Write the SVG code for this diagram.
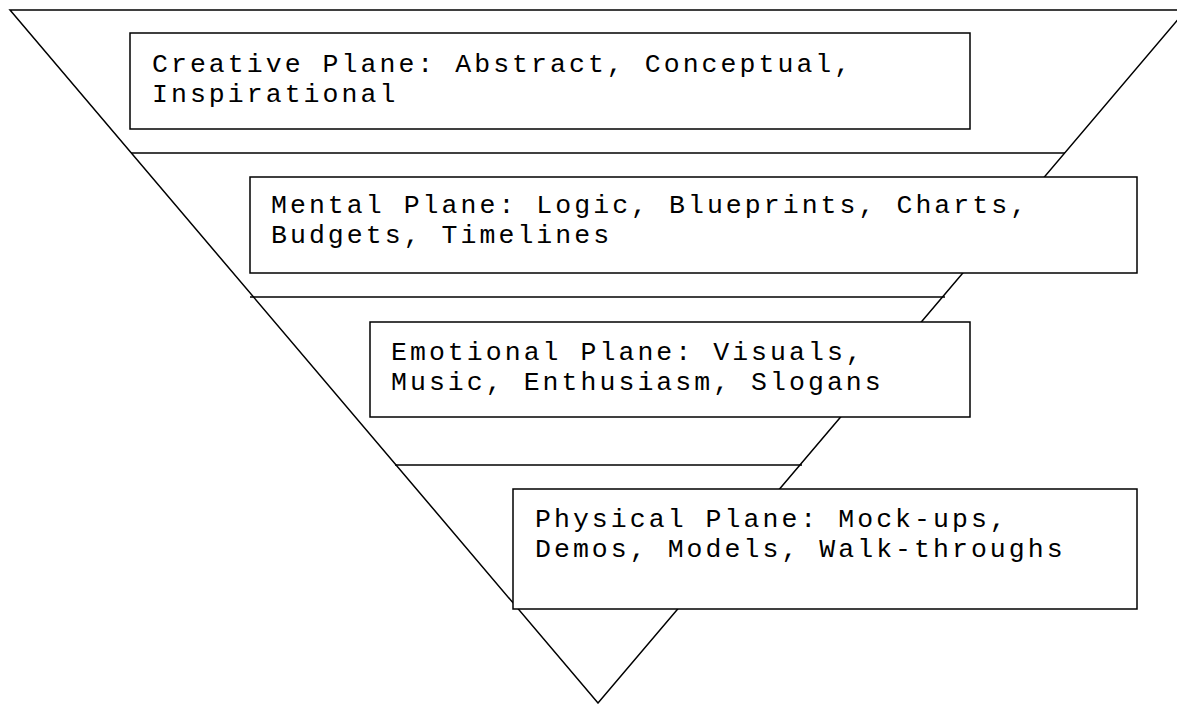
<svg xmlns="http://www.w3.org/2000/svg" width="1177" height="704" viewBox="0 0 1177 704">
<style>
.edge{fill:none;stroke:#000;stroke-width:1.5}
.box{fill:#fff;stroke:#000;stroke-width:1.5}
.lbl{font-family:"Liberation Mono","Courier New",monospace;font-size:26.5px;letter-spacing:3.05px;fill:#000}
</style>
<rect x="0" y="0" width="1177" height="704" fill="#fff"/>
<g id="pyramid">
<polygon class="edge" points="10,10 1186,10 598,703"/>
<line class="edge" x1="131" y1="153" x2="1065" y2="153"/>
<line class="edge" x1="250" y1="297" x2="945" y2="297"/>
<line class="edge" x1="395" y1="465" x2="802" y2="465"/>
</g>
<g id="creative">
<rect class="box" x="130" y="33" width="840" height="96"/>
<text class="lbl" x="152" y="72">Creative Plane: Abstract, Conceptual,</text>
<text class="lbl" x="152" y="102">Inspirational</text>
</g>
<g id="mental">
<rect class="box" x="250" y="177" width="887" height="96"/>
<text class="lbl" x="271" y="213">Mental Plane: Logic, Blueprints, Charts,</text>
<text class="lbl" x="271" y="243">Budgets, Timelines</text>
</g>
<g id="emotional">
<rect class="box" x="370" y="322" width="600" height="95"/>
<text class="lbl" x="391" y="360">Emotional Plane: Visuals,</text>
<text class="lbl" x="391" y="390">Music, Enthusiasm, Slogans</text>
</g>
<g id="physical">
<rect class="box" x="513" y="489" width="624" height="120"/>
<text class="lbl" x="535" y="527">Physical Plane: Mock-ups,</text>
<text class="lbl" x="535" y="557">Demos, Models, Walk-throughs</text>
</g>
</svg>
